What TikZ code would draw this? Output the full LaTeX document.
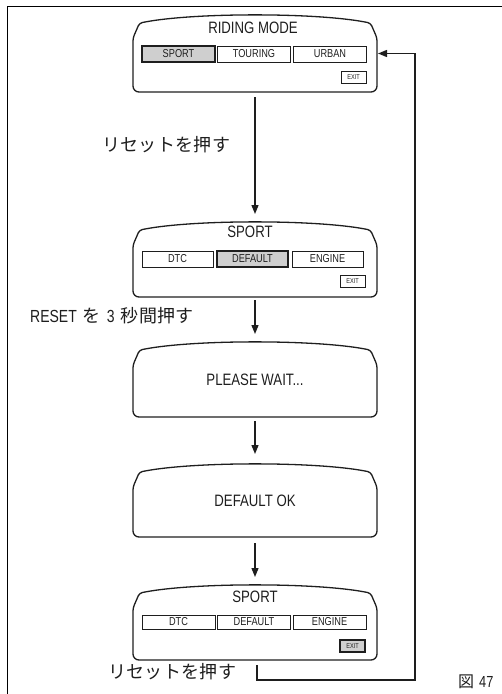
\documentclass[tikz,border=0pt]{standalone}
\usepackage{fontspec}
\setmainfont{Liberation Sans}[FakeStretch=0.8]
\newfontfamily\cjk{Noto Sans CJK JP}[LetterSpace=2]
\newfontfamily\cjkplain{Noto Sans CJK JP}
\usetikzlibrary{arrows.meta,calc}
\definecolor{ink}{HTML}{1E1E1E}
\definecolor{selgray}{HTML}{CFCFCF}
\tikzset{
  screenbox/.style={minimum width=244pt, inner sep=0pt, outer sep=0pt, text=ink, font=\fontsize{16.5}{18}\selectfont},
  screenline/.style={line width=1.3pt, draw=ink},
  btn/.style={draw=ink, line width=0.7pt, minimum width=73pt, minimum height=16pt, inner sep=0pt, text=ink, font=\fontsize{11.5}{13}\selectfont},
  selbtn/.style={btn, fill=selgray, line width=1.6pt},
  exitbtn/.style={draw=ink, line width=0.7pt, minimum width=25pt, minimum height=12pt, inner sep=0pt, text=ink, font=\fontsize{7}{8}\selectfont},
  selexit/.style={exitbtn, fill=selgray, line width=1.4pt},
  title/.style={font=\fontsize{16.5}{18}\selectfont, inner sep=0pt, text=ink},
  arr/.style={line width=1.3pt, draw=ink, -{Triangle[length=9pt,width=7pt]}},
  lbl/.style={font=\fontsize{17.5}{20}\selectfont, anchor=west, inner sep=0pt, text=ink},
  frameline/.style={line width=1pt, draw=black},
}
\newcommand\screenoutline[1]{%
  \draw[screenline] ($(#1.north west)+(12,7)$)
     .. controls ($(#1.north)+(-60,-2.5)$) and ($(#1.north)+(60,-2.5)$) .. ($(#1.north east)+(-12,7)$)
     [rounded corners=3pt] -- ($(#1.north east)+(-6.5,8)$) -- ($(#1.north east)+(0,23)$)
     [rounded corners=6pt] -- (#1.south east) -- (#1.south west)
     [rounded corners=3pt] -- ($(#1.north west)+(0,23)$) -- ($(#1.north west)+(6.5,8)$) -- ($(#1.north west)+(12,7)$);}
\begin{document}
\begin{tikzpicture}[x=1pt,y=-1pt]
\useasboundingbox (0,0) rectangle (502,694);
% frame
\draw[frameline] (7,694) -- (7,6) -- (502,6);

% screens
\node[screenbox, minimum height=77pt] (s1) at (255,53.5) {};
\node[screenbox, minimum height=75pt] (s2) at (255,259.5) {};
\node[screenbox, minimum height=75pt] (s3) at (255,379.5) {PLEASE WAIT...};
\node[screenbox, minimum height=73pt] (s4) at (255,500.5) {DEFAULT OK};
\node[screenbox, minimum height=75pt] (s5) at (255,622.5) {};
\screenoutline{s1}
\screenoutline{s2}
\screenoutline{s3}
\screenoutline{s4}
\screenoutline{s5}

% screen 1 contents
\node[title] (t1) at (253,28) {RIDING MODE};
\node[selbtn] (b11) at (178.5,54) {SPORT};
\node[btn] (b12) at (254,54) {TOURING};
\node[btn] (b13) at (330,54) {URBAN};
\node[exitbtn] (e1) at (353.5,77) {EXIT};

% screen 2 contents
\node[title] (t2) at (250,232) {SPORT};
\node[btn, minimum width=71pt] (b21) at (177.5,259) {DTC};
\node[selbtn, minimum width=71pt] (b22) at (252.5,259) {DEFAULT};
\node[btn, minimum width=71pt] (b23) at (327.5,259) {ENGINE};
\node[exitbtn] (e2) at (352.5,281) {EXIT};

% screen 5 contents
\node[title] (t5) at (255,597) {SPORT};
\node[btn, minimum height=14pt] (b51) at (178.5,622) {DTC};
\node[btn, minimum height=14pt] (b52) at (254,622) {DEFAULT};
\node[btn, minimum height=14pt] (b53) at (329.5,622) {ENGINE};
\node[selexit] (e5) at (352.5,646) {EXIT};

% flow arrows
\draw[arr, shorten <=5pt, shorten >=8pt] (s1.south) -- (s1.south |- s2.north);
\draw[arr, shorten <=3pt, shorten >=8pt] (s2.south) -- (s2.south |- s3.north);
\draw[arr, shorten <=4pt, shorten >=10pt] (s3.south) -- (s3.south |- s4.north);
\draw[arr, shorten <=6pt, shorten >=8pt] (s4.south) -- (s4.south |- s5.north);

% return arrow
\coordinate (rc) at (415,680);
\draw[arr, shorten >=1pt] ($(s5.south)+(2,5)$) |- (rc) |- (s1.east);

% labels
\node[lbl] (l1) at (102,145) {\cjk\fontsize{18}{20}\selectfont リセットを押す};
\node[lbl] (l2) at (30,316) {RESET\hspace{6pt}{\cjkplain\fontsize{18}{20}\selectfont を}\hspace{6pt}3\hspace{6pt}{\cjk\fontsize{18}{20}\selectfont 秒間押す}};
\node[lbl] (l3) at (108,672) {\cjk\fontsize{18}{20}\selectfont リセットを押す};
\node[lbl, font=\fontsize{16}{18}\selectfont] (fig) at (458,682) {{\cjkplain 図}\hspace{5pt}47};
\end{tikzpicture}
\end{document}
